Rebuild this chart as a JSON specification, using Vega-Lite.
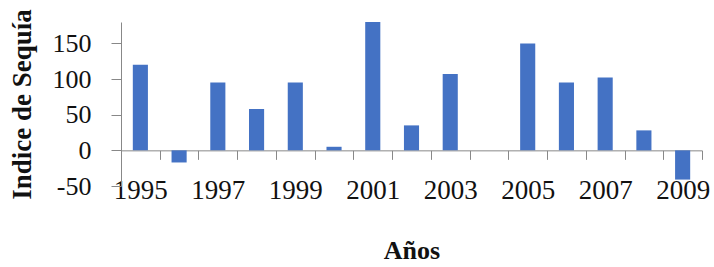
{
  "$schema": "https://vega.github.io/schema/vega-lite/v6.json",
  "width": 581,
  "height": 164,
  "autosize": "none",
  "padding": {"left": 121, "top": 22, "right": 12, "bottom": 81},
  "background": "white",
  "config": {"view": {"stroke": null}, "font": "Liberation Serif"},
  "data": {"values": [
    {"year": "1995", "value": 120},
    {"year": "1996", "value": -17},
    {"year": "1997", "value": 95},
    {"year": "1998", "value": 58},
    {"year": "1999", "value": 95},
    {"year": "2000", "value": 5},
    {"year": "2001", "value": 180},
    {"year": "2002", "value": 35},
    {"year": "2003", "value": 107},
    {"year": "2004", "value": 0},
    {"year": "2005", "value": 150},
    {"year": "2006", "value": 95},
    {"year": "2007", "value": 102},
    {"year": "2008", "value": 28},
    {"year": "2009", "value": -41}
  ]},
  "mark": {"type": "bar", "color": "#4472C4", "width": {"band": 0.39}},
  "encoding": {
    "x": {
      "field": "year", "type": "ordinal", "sort": null,
      "scale": {"paddingInner": 0, "paddingOuter": 0},
      "axis": {
        "title": "Años", "titleFont": "Liberation Serif", "titleFontSize": 26, "titleFontWeight": "bold", "titleColor": "#111",
        "titlePadding": 34,
        "labelAngle": 0, "labelFont": "Liberation Serif", "labelFontSize": 27, "labelColor": "#111",
        "labelExpr": "toNumber(datum.value) % 2 == 1 ? datum.label : ''",
        "labelOverlap": false, "labelPadding": 18,
        "offset": -35.65, "tickBand": "extent", "tickSize": 9,
        "tickColor": "#888", "domainColor": "#888", "grid": false
      }
    },
    "y": {
      "field": "value", "type": "quantitative",
      "scale": {"domain": [-50, 180], "nice": false, "zero": false},
      "axis": {
        "title": "Indice de Sequía", "titleFont": "Liberation Serif", "titleFontSize": 27, "titleFontWeight": "bold", "titleColor": "#111",
        "titlePadding": 16,
        "values": [-50, 0, 50, 100, 150],
        "labelExpr": "replace(datum.label, '−', '-')",
        "labelFont": "Liberation Serif", "labelFontSize": 26, "labelColor": "#111", "labelPadding": 20,
        "tickSize": 10, "tickColor": "#888", "domainColor": "#888", "grid": false
      }
    }
  }
}
